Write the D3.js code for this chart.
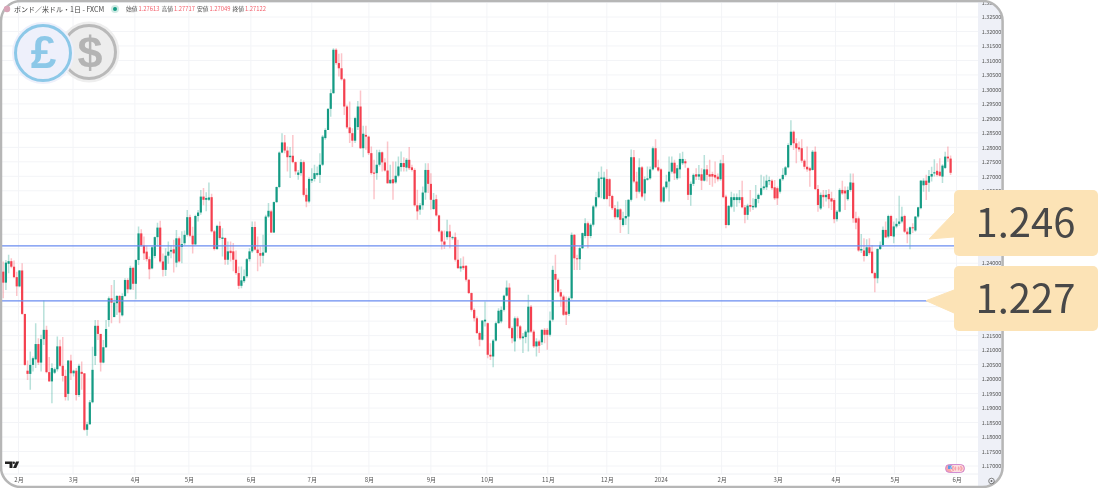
<!DOCTYPE html>
<html lang="ja">
<head>
<meta charset="utf-8">
<title>GBP/USD</title>
<script src="https://d3js.org/d3.v7.min.js"></script>
<style>
  body { margin: 0; background: #fff; }
  svg { display: block; filter: blur(0.3px); }
  svg text { font-family: "Noto Sans CJK JP", "Noto Sans", sans-serif; }
</style>
</head>
<body>
<div id="chart"></div>
<script>
// daily candles
var opens = [
1.2371,1.2333,1.2398,1.2407,1.2388,1.2352,1.2320,1.2375,1.2225,1.2029,
1.2018,1.2049,1.2068,1.2121,1.2057,1.2138,1.2170,1.2024,1.1992,1.2022,
1.2034,1.2113,1.2046,1.2011,1.1949,1.2064,1.2020,1.2029,1.1945,1.2025,
1.2020,1.1825,1.1844,1.1920,1.2080,1.2184,1.2156,1.2057,1.2110,1.2204,
1.2279,1.2214,1.2262,1.2287,1.2220,1.2287,1.2342,1.2310,1.2384,1.2329,
1.2411,1.2503,1.2461,1.2440,1.2414,1.2382,1.2425,1.2490,1.2523,1.2406,
1.2377,1.2426,1.2440,1.2448,1.2402,1.2486,1.2456,1.2469,1.2498,1.2559,
1.2495,1.2465,1.2563,1.2575,1.2630,1.2619,1.2619,1.2628,1.2510,1.2449,
1.2529,1.2484,1.2487,1.2412,1.2443,1.2441,1.2412,1.2366,1.2322,1.2338,
1.2355,1.2414,1.2441,1.2525,1.2447,1.2435,1.2426,1.2437,1.2561,1.2579,
1.2506,1.2611,1.2663,1.2782,1.2817,1.2789,1.2766,1.2771,1.2749,1.2705,
1.2711,1.2749,1.2636,1.2613,1.2685,1.2691,1.2705,1.2705,1.2740,1.2832,
1.2860,1.2933,1.2987,1.3137,1.3091,1.3073,1.3035,1.2941,1.2869,1.2849,
1.2823,1.2870,1.2941,1.2797,1.2843,1.2837,1.2780,1.2713,1.2711,1.2740,
1.2783,1.2748,1.2720,1.2676,1.2690,1.2679,1.2702,1.2732,1.2746,1.2730,
1.2757,1.2731,1.2722,1.2600,1.2585,1.2600,1.2644,1.2722,1.2674,1.2587,
1.2621,1.2565,1.2510,1.2475,1.2490,1.2510,1.2487,1.2490,1.2412,1.2382,
1.2391,1.2391,1.2343,1.2297,1.2239,1.2210,1.2159,1.2136,1.2199,1.2193,
1.2084,1.2078,1.2133,1.2193,1.2199,1.2239,1.2288,1.2316,1.2176,1.2130,
1.2210,1.2182,1.2141,1.2145,1.2161,1.2250,1.2164,1.2113,1.2130,1.2127,
1.2170,1.2170,1.2153,1.2205,1.2363,1.2343,1.2300,1.2285,1.2233,1.2225,
1.2279,1.2498,1.2417,1.2414,1.2452,1.2494,1.2538,1.2494,1.2533,1.2596,
1.2628,1.2691,1.2622,1.2691,1.2690,1.2632,1.2590,1.2559,1.2586,1.2532,
1.2555,1.2561,1.2619,1.2766,1.2682,1.2647,1.2731,1.2641,1.2688,1.2693,
1.2724,1.2797,1.2731,1.2724,1.2613,1.2662,1.2682,1.2716,1.2747,1.2693,
1.2724,1.2745,1.2752,1.2728,1.2636,1.2674,1.2707,1.2699,1.2707,1.2685,
1.2724,1.2707,1.2708,1.2705,1.2699,1.2690,1.2745,1.2630,1.2532,1.2595,
1.2618,1.2618,1.2618,1.2628,1.2593,1.2567,1.2601,1.2593,1.2593,1.2622,
1.2636,1.2659,1.2662,1.2683,1.2685,1.2662,1.2659,1.2647,1.2690,1.2705,
1.2731,1.2808,1.2854,1.2814,1.2800,1.2797,1.2754,1.2733,1.2728,1.2722,
1.2785,1.2656,1.2589,1.2636,1.2628,1.2639,1.2624,1.2618,1.2552,1.2578,
1.2653,1.2651,1.2621,1.2653,1.2678,1.2555,1.2555,1.2444,1.2444,1.2425,
1.2455,1.2440,1.2366,1.2348,1.2449,1.2463,1.2515,1.2492,1.2563,1.2492,
1.2527,1.2536,1.2544,1.2563,1.2509,1.2500,1.2524,1.2513,1.2561,1.2590,
1.2669,1.2685,1.2678,1.2699,1.2710,1.2719,1.2716,1.2699,1.2729,1.2768,1.27613];
var highs = [
1.2406,1.2411,1.2429,1.2417,1.2409,1.2371,1.2377,1.2400,1.2225,1.2064,
1.2095,1.2078,1.2193,1.2141,1.2153,1.2271,1.2184,1.2076,1.2055,1.2040,
1.2147,1.2136,1.2145,1.2032,1.2066,1.2084,1.2032,1.2038,1.2053,1.2061,
1.2020,1.1853,1.1928,1.2112,1.2204,1.2204,1.2156,1.2135,1.2204,1.2285,
1.2325,1.2342,1.2290,1.2290,1.2296,1.2348,1.2348,1.2391,1.2388,1.2414,
1.2527,1.2517,1.2492,1.2460,1.2423,1.2460,1.2492,1.2540,1.2547,1.2434,
1.2452,1.2475,1.2463,1.2481,1.2515,1.2492,1.2510,1.2513,1.2584,1.2567,
1.2526,1.2567,1.2584,1.2653,1.2660,1.2645,1.2679,1.2640,1.2515,1.2533,
1.2544,1.2521,1.2490,1.2475,1.2475,1.2470,1.2444,1.2389,1.2389,1.2378,
1.2418,1.2452,1.2544,1.2544,1.2492,1.2458,1.2498,1.2567,1.2608,1.2585,
1.2613,1.2665,1.2786,1.2849,1.2843,1.2803,1.2801,1.2843,1.2751,1.2722,
1.2759,1.2755,1.2659,1.2697,1.2728,1.2740,1.2734,1.2780,1.2843,1.2866,
1.2935,1.3001,1.3142,1.3142,1.3123,1.3125,1.3039,1.2947,1.2958,1.2866,
1.2906,1.2960,1.2996,1.2875,1.2875,1.2840,1.2803,1.2757,1.2792,1.2792,
1.2786,1.2762,1.2820,1.2740,1.2751,1.2751,1.2768,1.2786,1.2766,1.2763,
1.2801,1.2740,1.2728,1.2654,1.2608,1.2665,1.2745,1.2745,1.2711,1.2642,
1.2636,1.2567,1.2515,1.2513,1.2550,1.2533,1.2495,1.2506,1.2481,1.2417,
1.2423,1.2394,1.2345,1.2299,1.2245,1.2216,1.2164,1.2204,1.2268,1.2195,
1.2124,1.2138,1.2199,1.2245,1.2251,1.2291,1.2340,1.2331,1.2182,1.2216,
1.2216,1.2187,1.2159,1.2170,1.2291,1.2256,1.2170,1.2141,1.2136,1.2172,
1.2176,1.2176,1.2233,1.2391,1.2429,1.2348,1.2310,1.2291,1.2285,1.2285,
1.2506,1.2501,1.2429,1.2458,1.2506,1.2555,1.2544,1.2538,1.2601,1.2647,
1.2716,1.2734,1.2716,1.2724,1.2693,1.2636,1.2601,1.2613,1.2590,1.2578,
1.2618,1.2621,1.2793,1.2791,1.2716,1.2762,1.2736,1.2699,1.2734,1.2734,
1.2803,1.2828,1.2757,1.2728,1.2667,1.2705,1.2768,1.2768,1.2757,1.2739,
1.2780,1.2785,1.2760,1.2731,1.2682,1.2710,1.2728,1.2739,1.2728,1.2774,
1.2739,1.2757,1.2716,1.2751,1.2710,1.2757,1.2774,1.2636,1.2601,1.2647,
1.2641,1.2641,1.2653,1.2685,1.2601,1.2605,1.2653,1.2624,1.2670,1.2641,
1.2705,1.2699,1.2705,1.2699,1.2690,1.2687,1.2665,1.2693,1.2728,1.2736,
1.2814,1.2894,1.2858,1.2831,1.2820,1.2828,1.2759,1.2803,1.2733,1.2791,
1.2803,1.2670,1.2644,1.2653,1.2653,1.2655,1.2647,1.2624,1.2584,1.2659,
1.2685,1.2665,1.2665,1.2710,1.2710,1.2578,1.2561,1.2501,1.2486,1.2483,
1.2486,1.2463,1.2371,1.2452,1.2475,1.2527,1.2544,1.2567,1.2567,1.2544,
1.2555,1.2633,1.2595,1.2567,1.2521,1.2527,1.2538,1.2563,1.2595,1.2687,
1.2693,1.2705,1.2722,1.2733,1.2759,1.2745,1.2762,1.2742,1.2785,1.2803,1.27717];
var lows = [
1.2279,1.2308,1.2365,1.2383,1.2348,1.2287,1.2317,1.2222,1.2046,1.1997,
1.1963,1.2026,1.2038,1.2049,1.2026,1.2118,1.2020,1.1992,1.1917,1.2018,
1.2026,1.2043,1.1992,1.1926,1.1926,1.1997,1.2009,1.1926,1.1938,1.1963,
1.1822,1.1804,1.1842,1.1917,1.2049,1.2135,1.2026,1.2055,1.2107,1.2181,
1.2193,1.2214,1.2221,1.2193,1.2216,1.2283,1.2296,1.2308,1.2308,1.2276,
1.2394,1.2457,1.2411,1.2406,1.2345,1.2379,1.2417,1.2457,1.2402,1.2354,
1.2356,1.2398,1.2417,1.2368,1.2386,1.2402,1.2400,1.2463,1.2492,1.2490,
1.2434,1.2463,1.2544,1.2567,1.2600,1.2579,1.2615,1.2506,1.2444,1.2446,
1.2481,1.2423,1.2395,1.2395,1.2406,1.2372,1.2360,1.2311,1.2314,1.2332,
1.2349,1.2406,1.2435,1.2444,1.2372,1.2389,1.2400,1.2435,1.2556,1.2504,
1.2504,1.2608,1.2659,1.2780,1.2780,1.2717,1.2694,1.2745,1.2705,1.2688,
1.2702,1.2630,1.2593,1.2607,1.2677,1.2682,1.2699,1.2677,1.2736,1.2826,
1.2860,1.2906,1.2985,1.3085,1.3045,1.3031,1.2912,1.2863,1.2815,1.2801,
1.2815,1.2860,1.2794,1.2766,1.2792,1.2774,1.2705,1.2621,1.2688,1.2734,
1.2717,1.2717,1.2674,1.2674,1.2619,1.2674,1.2697,1.2717,1.2717,1.2717,
1.2722,1.2717,1.2596,1.2550,1.2567,1.2585,1.2619,1.2642,1.2585,1.2585,
1.2561,1.2506,1.2447,1.2449,1.2481,1.2452,1.2481,1.2406,1.2380,1.2371,
1.2377,1.2337,1.2294,1.2233,1.2199,1.2156,1.2113,1.2133,1.2182,1.2072,
1.2066,1.2041,1.2130,1.2191,1.2193,1.2233,1.2285,1.2172,1.2124,1.2095,
1.2141,1.2136,1.2090,1.2124,1.2095,1.2159,1.2107,1.2078,1.2090,1.2118,
1.2124,1.2101,1.2147,1.2199,1.2297,1.2297,1.2250,1.2218,1.2187,1.2218,
1.2274,1.2377,1.2377,1.2377,1.2449,1.2486,1.2452,1.2486,1.2527,1.2590,
1.2624,1.2624,1.2619,1.2619,1.2596,1.2584,1.2552,1.2555,1.2504,1.2527,
1.2532,1.2501,1.2613,1.2676,1.2624,1.2641,1.2624,1.2616,1.2685,1.2688,
1.2720,1.2728,1.2716,1.2609,1.2609,1.2655,1.2613,1.2710,1.2687,1.2687,
1.2693,1.2739,1.2730,1.2618,1.2598,1.2667,1.2687,1.2687,1.2653,1.2682,
1.2682,1.2670,1.2664,1.2676,1.2682,1.2685,1.2624,1.2521,1.2529,1.2590,
1.2578,1.2595,1.2607,1.2590,1.2538,1.2550,1.2578,1.2584,1.2590,1.2607,
1.2632,1.2653,1.2653,1.2670,1.2653,1.2618,1.2601,1.2641,1.2685,1.2699,
1.2728,1.2803,1.2791,1.2745,1.2785,1.2747,1.2724,1.2716,1.2664,1.2720,
1.2653,1.2578,1.2584,1.2595,1.2613,1.2590,1.2584,1.2538,1.2544,1.2575,
1.2636,1.2584,1.2616,1.2647,1.2540,1.2517,1.2440,1.2435,1.2406,1.2423,
1.2429,1.2363,1.2300,1.2331,1.2446,1.2458,1.2489,1.2486,1.2492,1.2469,
1.2521,1.2529,1.2538,1.2504,1.2469,1.2448,1.2504,1.2509,1.2555,1.2586,
1.2647,1.2618,1.2647,1.2682,1.2699,1.2699,1.2699,1.2677,1.2725,1.2750,1.27049];
var closes = [
1.2333,1.2402,1.2407,1.2388,1.2352,1.2320,1.2375,1.2225,1.2049,1.2018,
1.2049,1.2072,1.2121,1.2057,1.2138,1.2170,1.2024,1.1992,1.2038,1.2034,
1.2113,1.2046,1.2011,1.1938,1.2064,1.2020,1.2029,1.1945,1.2046,1.2018,
1.1825,1.1844,1.1920,1.2032,1.2184,1.2156,1.2057,1.2110,1.2173,1.2279,
1.2264,1.2264,1.2287,1.2230,1.2287,1.2342,1.2310,1.2384,1.2329,1.2411,
1.2503,1.2461,1.2434,1.2414,1.2379,1.2455,1.2490,1.2523,1.2406,1.2377,
1.2426,1.2440,1.2446,1.2434,1.2486,1.2406,1.2466,1.2498,1.2559,1.2495,
1.2465,1.2563,1.2575,1.2630,1.2619,1.2625,1.2627,1.2510,1.2449,1.2529,
1.2487,1.2489,1.2412,1.2441,1.2435,1.2412,1.2366,1.2322,1.2341,1.2355,
1.2414,1.2441,1.2525,1.2447,1.2435,1.2426,1.2437,1.2561,1.2581,1.2506,
1.2611,1.2663,1.2782,1.2817,1.2789,1.2766,1.2771,1.2749,1.2717,1.2713,
1.2749,1.2636,1.2613,1.2691,1.2691,1.2711,1.2711,1.2740,1.2837,1.2860,
1.2933,1.2987,1.3137,1.3091,1.3073,1.3035,1.2941,1.2869,1.2849,1.2823,
1.2901,1.2941,1.2797,1.2847,1.2837,1.2780,1.2711,1.2709,1.2740,1.2783,
1.2748,1.2720,1.2676,1.2688,1.2676,1.2702,1.2734,1.2746,1.2732,1.2757,
1.2728,1.2722,1.2600,1.2579,1.2600,1.2644,1.2722,1.2674,1.2619,1.2619,
1.2565,1.2510,1.2475,1.2464,1.2510,1.2490,1.2490,1.2412,1.2383,1.2389,
1.2383,1.2343,1.2297,1.2239,1.2210,1.2159,1.2136,1.2202,1.2205,1.2084,
1.2078,1.2133,1.2193,1.2236,1.2239,1.2288,1.2316,1.2176,1.2141,1.2210,
1.2182,1.2141,1.2147,1.2164,1.2250,1.2164,1.2113,1.2130,1.2115,1.2170,
1.2153,1.2153,1.2202,1.2377,1.2343,1.2302,1.2285,1.2222,1.2222,1.2279,
1.2498,1.2417,1.2414,1.2452,1.2504,1.2538,1.2494,1.2533,1.2596,1.2628,
1.2693,1.2696,1.2696,1.2622,1.2632,1.2590,1.2559,1.2586,1.2550,1.2555,
1.2563,1.2619,1.2766,1.2682,1.2647,1.2731,1.2630,1.2690,1.2693,1.2724,
1.2797,1.2731,1.2720,1.2613,1.2662,1.2682,1.2716,1.2747,1.2710,1.2728,
1.2760,1.2760,1.2745,1.2636,1.2674,1.2705,1.2699,1.2707,1.2685,1.2724,
1.2705,1.2699,1.2699,1.2696,1.2690,1.2745,1.2628,1.2532,1.2598,1.2628,
1.2628,1.2628,1.2628,1.2593,1.2567,1.2599,1.2595,1.2598,1.2622,1.2636,
1.2659,1.2665,1.2685,1.2687,1.2659,1.2624,1.2624,1.2690,1.2705,1.2731,
1.2808,1.2854,1.2814,1.2797,1.2793,1.2754,1.2733,1.2724,1.2720,1.2785,
1.2656,1.2601,1.2636,1.2628,1.2636,1.2621,1.2613,1.2552,1.2578,1.2653,
1.2641,1.2641,1.2653,1.2679,1.2555,1.2540,1.2444,1.2449,1.2425,1.2455,
1.2435,1.2366,1.2348,1.2449,1.2463,1.2515,1.2489,1.2563,1.2494,1.2527,
1.2536,1.2544,1.2561,1.2509,1.2500,1.2524,1.2521,1.2561,1.2593,1.2685,
1.2685,1.2670,1.2701,1.2708,1.2714,1.2705,1.2702,1.2737,1.2768,1.2762,1.27122];

var priceTicks = ["1.17000","1.17500","1.18000","1.18500","1.19000","1.19500","1.20000","1.20500",
  "1.21000","1.21500","1.22000","1.22500","1.23000","1.23500","1.24000","1.24500","1.25000",
  "1.25500","1.26000","1.26500","1.27000","1.27500","1.28000","1.28500","1.29000","1.29500",
  "1.30000","1.30500","1.31000","1.31500","1.32000","1.32500","1.33000"];
// these sit fully behind the two callouts
var hiddenTicks = ["1.22000","1.22500","1.23000","1.23500","1.24500","1.25000","1.25500","1.26000"];
var monthLabels = ["2月","3月","4月","5月","6月","7月","8月","9月","10月","11月","12月","2024","2月","3月","4月","5月","6月"];
var monthIndex = [5.65,25.8,48.65,68.6,91.5,114,135.1,158,178.7,201.2,223,242.9,265.4,286.1,307.5,329.3,352.2];
var levels = [1.246, 1.227];
var legendNames = ["始値","高値","安値","終値"];
var legendValues = ["1.27613","1.27717","1.27049","1.27122"];

var width = 1100, height = 488;
var upColor = "#149b84", downColor = "#f4404f";

var svg = d3.select("#chart").append("svg")
  .attr("width", width)
  .attr("height", height);

var x = d3.scaleLinear().domain([0, opens.length - 1]).range([3.2, 950.6]);
var y = d3.scaleLinear().domain([1.17, 1.325]).range([466, 17]);

// rounded frame, everything in the chart is clipped to it
svg.append("clipPath").attr("id", "frame")
  .append("rect")
  .attr("x", 1).attr("y", 1)
  .attr("width", 1001.6).attr("height", 486)
  .attr("rx", 20);

var chart = svg.append("g").attr("clip-path", "url(#frame)");

chart.append("rect")
  .attr("x", 978).attr("y", 0)
  .attr("width", 26).attr("height", height)
  .attr("fill", "#eef0f7");

// grid
chart.append("g").selectAll("line")
  .data(priceTicks)
  .enter().append("line")
  .attr("x1", 0).attr("x2", 978)
  .attr("y1", function(d) { return y(+d); })
  .attr("y2", function(d) { return y(+d); })
  .attr("stroke", "#f3f4f7")
  .attr("stroke-width", 1);

chart.append("g").selectAll("line")
  .data(monthIndex)
  .enter().append("line")
  .attr("x1", function(d) { return x(d); })
  .attr("x2", function(d) { return x(d); })
  .attr("y1", 0).attr("y2", 474)
  .attr("stroke", "#f3f4f7")
  .attr("stroke-width", 1);

chart.append("line")
  .attr("x1", 0).attr("x2", 978)
  .attr("y1", 474).attr("y2", 474)
  .attr("stroke", "#eef0f4");

// candles
var candles = d3.range(opens.length);

chart.append("g").selectAll("line")
  .data(candles)
  .enter().append("line")
  .attr("x1", function(i) { return x(i); })
  .attr("x2", function(i) { return x(i); })
  .attr("y1", function(i) { return y(highs[i]); })
  .attr("y2", function(i) { return y(lows[i]); })
  .attr("stroke", function(i) { return closes[i] >= opens[i] ? upColor : downColor; })
  .attr("stroke-opacity", 0.3)
  .attr("stroke-width", 1.5);

chart.append("g").selectAll("rect")
  .data(candles)
  .enter().append("rect")
  .attr("x", function(i) { return x(i) - 1.1; })
  .attr("width", 2.2)
  .attr("y", function(i) { return y(Math.max(opens[i], closes[i])); })
  .attr("height", function(i) { return Math.max(1, Math.abs(y(opens[i]) - y(closes[i]))); })
  .attr("fill", function(i) { return closes[i] >= opens[i] ? upColor : downColor; });

// horizontal levels
chart.append("g").selectAll("line")
  .data(levels)
  .enter().append("line")
  .attr("x1", 2).attr("x2", 956)
  .attr("y1", function(d) { return y(d); })
  .attr("y2", function(d) { return y(d); })
  .attr("stroke", "#6a8cf0")
  .attr("stroke-width", 1.2);

// price axis
var yAxis = d3.axisRight(y)
  .tickValues(priceTicks.filter(function(d) { return hiddenTicks.indexOf(d) < 0; }).map(Number))
  .tickFormat(d3.format(".5f"))
  .tickSize(0);

var yAxisG = chart.append("g")
  .attr("transform", "translate(979,0)")
  .call(yAxis);
yAxisG.select(".domain").remove();
yAxisG.selectAll("text")
  .attr("x", 2.7)
  .attr("font-size", 5.4)
  .attr("fill", "#555");

// time axis
var xAxis = d3.axisBottom(x)
  .tickValues(monthIndex)
  .tickFormat(function(d, i) { return monthLabels[i]; })
  .tickSize(0);

var xAxisG = chart.append("g")
  .attr("transform", "translate(0,476)")
  .call(xAxis);
xAxisG.select(".domain").remove();
xAxisG.selectAll("text")
  .attr("y", 2)
  .attr("font-size", 6)
  .attr("fill", "#555");

// frame
svg.append("rect")
  .attr("x", 1).attr("y", 1)
  .attr("width", 1001.6).attr("height", 486)
  .attr("rx", 20)
  .attr("fill", "none")
  .attr("stroke", "#b6b6b6")
  .attr("stroke-width", 2.5);

// header
svg.append("text")
  .attr("x", 14).attr("y", 11.5)
  .attr("font-size", 7)
  .attr("fill", "#444")
  .text("ポンド／米ドル・1日 - FXCM");

svg.append("circle").attr("cx", 7).attr("cy", 9).attr("r", 3.2).attr("fill", "#d9a5b8");
svg.append("circle").attr("cx", 115).attr("cy", 9).attr("r", 4).attr("fill", "#cfeae4");
svg.append("circle").attr("cx", 115).attr("cy", 9).attr("r", 2).attr("fill", "#149b84");

var legendX = [126, 161.5, 197, 232.5];
legendNames.forEach(function(name, i) {
  svg.append("text")
    .attr("x", legendX[i]).attr("y", 11)
    .attr("font-size", 5.8)
    .attr("fill", "#555")
    .text(name);
  svg.append("text")
    .attr("x", legendX[i] + 12.5).attr("y", 11)
    .attr("font-size", 5.8)
    .attr("fill", "#f4606c")
    .text(legendValues[i]);
});

// currency coins
svg.append("circle").attr("cx", 89).attr("cy", 52).attr("r", 30.5).attr("fill", "#eeeeee");
svg.append("circle").attr("cx", 89).attr("cy", 52).attr("r", 26.5)
  .attr("fill", "#ededed").attr("stroke", "#b9b9b9").attr("stroke-width", 3);
svg.append("text")
  .attr("x", 90).attr("y", 68).attr("text-anchor", "middle")
  .attr("font-size", 45).attr("font-weight", 700)
  .attr("fill", "#b4b4b4")
  .style("font-family", "'Liberation Sans'")
  .text("$");

svg.append("circle").attr("cx", 43).attr("cy", 53).attr("r", 31).attr("fill", "#eef0fb");
svg.append("circle").attr("cx", 43).attr("cy", 53).attr("r", 27.5)
  .attr("fill", "#eef0fb").attr("stroke", "#8cc8e8").attr("stroke-width", 3);
svg.append("text")
  .attr("x", 43.5).attr("y", 68).attr("text-anchor", "middle")
  .attr("font-size", 46).attr("font-weight", 700)
  .attr("fill", "#8cc8e8")
  .style("font-family", "'Liberation Sans'")
  .text("£");

// small logo bottom left
svg.append("path")
  .attr("d", "M5 461.5h7.5v6.5h-3v-4h-4.5z")
  .attr("fill", "#222");
svg.append("circle").attr("cx", 13.8).attr("cy", 462.8).attr("r", 1.2).attr("fill", "#222");
svg.append("path")
  .attr("d", "M16 461.5h3.2l-3 6.5h-3.2z")
  .attr("fill", "#222");

// flag pill bottom right
svg.append("rect")
  .attr("x", 945.5).attr("y", 464.5)
  .attr("width", 19).attr("height", 8).attr("rx", 4)
  .attr("fill", "#f7a6ae").attr("stroke", "#c77bd0").attr("stroke-width", 0.8);
svg.append("rect")
  .attr("x", 948).attr("y", 465.5)
  .attr("width", 4).attr("height", 3.5)
  .attr("fill", "#5b9be8");
[954, 957, 960].forEach(function(px) {
  svg.append("circle").attr("cx", px).attr("cy", 468.5).attr("r", 3.2)
    .attr("fill", "none").attr("stroke", "#fff").attr("stroke-width", 0.6);
});

// settings icon
svg.append("circle").attr("cx", 991.5).attr("cy", 481).attr("r", 2.8)
  .attr("fill", "none").attr("stroke", "#666").attr("stroke-width", 0.8);
svg.append("circle").attr("cx", 991.5).attr("cy", 481).attr("r", 1).attr("fill", "#666");

// callouts
var calloutBox = [
  { y: 190, h: 66, tipX: 929, tipY: 239, y1: 213, y2: 237 },
  { y: 266, h: 65, tipX: 926, tipY: 300.7, y1: 290, y2: 313 }
];
calloutBox.forEach(function(b, i) {
  svg.append("path")
    .attr("d", "M954 " + b.y1 + "L" + b.tipX + " " + b.tipY + "L954 " + b.y2 + "Z")
    .attr("fill", "#fce3b6")
    .attr("stroke", "#fce3b6")
    .attr("stroke-linejoin", "round");
  svg.append("rect")
    .attr("x", 954).attr("y", b.y)
    .attr("width", 144).attr("height", b.h)
    .attr("rx", 5)
    .attr("fill", "#fce3b6");
  svg.append("text")
    .attr("x", 1025.5).attr("y", b.y + 47)
    .attr("text-anchor", "middle")
    .attr("font-size", 40)
    .attr("fill", "#484848")
    .text(levels[i].toFixed(3));
});
</script>
</body>
</html>
